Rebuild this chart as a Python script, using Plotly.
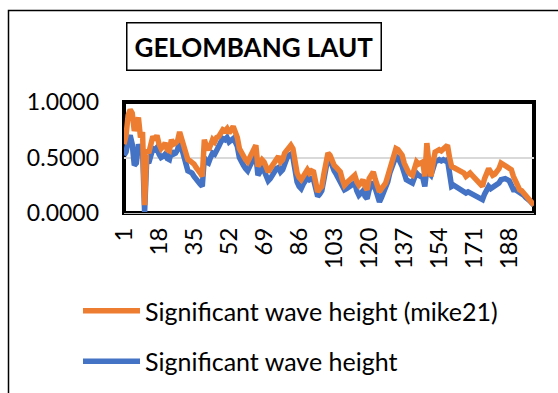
import plotly.graph_objects as go

# Wave height series (time step index 1..200)
steps = list(range(1, 201))

hs_mike21 = [
    0.62, 0.70, 0.88, 0.93, 0.90, 0.74, 0.80, 0.86, 0.68, 0.73,
    0.07, 0.57, 0.54, 0.60, 0.69, 0.66, 0.70, 0.62, 0.58, 0.60,
    0.63, 0.57, 0.56, 0.66, 0.62, 0.63, 0.65, 0.73, 0.66, 0.60,
    0.52, 0.48, 0.47, 0.46, 0.44, 0.41, 0.39, 0.36, 0.33, 0.66,
    0.60, 0.57, 0.61, 0.66, 0.64, 0.68, 0.69, 0.72, 0.75, 0.74,
    0.76, 0.72, 0.75, 0.78, 0.73, 0.68, 0.58, 0.54, 0.51, 0.48,
    0.46, 0.50, 0.54, 0.58, 0.61, 0.42, 0.45, 0.48, 0.46, 0.40,
    0.37, 0.40, 0.43, 0.47, 0.50, 0.51, 0.46, 0.48, 0.54, 0.57,
    0.60, 0.61, 0.58, 0.45, 0.36, 0.32, 0.30, 0.33, 0.37, 0.39,
    0.36, 0.38, 0.37, 0.28, 0.19, 0.22, 0.24, 0.35, 0.46, 0.54,
    0.52, 0.47, 0.43, 0.41, 0.39, 0.37, 0.30, 0.25, 0.27, 0.29,
    0.30, 0.32, 0.34, 0.28, 0.25, 0.27, 0.30, 0.24, 0.21, 0.31,
    0.34, 0.37, 0.30, 0.24, 0.19, 0.22, 0.25, 0.27, 0.33, 0.40,
    0.47, 0.53, 0.58, 0.57, 0.55, 0.52, 0.45, 0.39, 0.37, 0.35,
    0.34, 0.40, 0.46, 0.44, 0.45, 0.46, 0.33, 0.63, 0.45, 0.33,
    0.45, 0.55, 0.56, 0.57, 0.56, 0.58, 0.59, 0.61, 0.50, 0.42,
    0.41, 0.40, 0.39, 0.38, 0.37, 0.36, 0.33, 0.35, 0.36, 0.34,
    0.32, 0.30, 0.28, 0.26, 0.24, 0.31, 0.36, 0.40, 0.37, 0.34,
    0.35, 0.37, 0.40, 0.45, 0.44, 0.43, 0.42, 0.41, 0.39, 0.33,
    0.28, 0.24, 0.21, 0.20, 0.18, 0.16, 0.14, 0.12, 0.10, 0.07,
]

hs_obs = [
    0.52, 0.55, 0.65, 0.70, 0.62, 0.43, 0.45, 0.62, 0.55, 0.58,
    0.01, 0.47, 0.45, 0.50, 0.58, 0.57, 0.59, 0.53, 0.50, 0.51,
    0.53, 0.49, 0.48, 0.56, 0.53, 0.54, 0.57, 0.65, 0.57, 0.50,
    0.42, 0.38, 0.37, 0.36, 0.33, 0.30, 0.28, 0.26, 0.24, 0.50,
    0.46, 0.45, 0.50, 0.54, 0.53, 0.58, 0.60, 0.64, 0.67, 0.66,
    0.68, 0.64, 0.66, 0.67, 0.64, 0.60, 0.50, 0.45, 0.43, 0.40,
    0.38, 0.42, 0.46, 0.50, 0.53, 0.34, 0.37, 0.40, 0.38, 0.32,
    0.29, 0.31, 0.34, 0.38, 0.40, 0.41, 0.37, 0.39, 0.45, 0.49,
    0.52, 0.53, 0.50, 0.38, 0.28, 0.24, 0.22, 0.26, 0.30, 0.32,
    0.30, 0.31, 0.30, 0.22, 0.15, 0.17, 0.20, 0.30, 0.41, 0.50,
    0.48, 0.42, 0.38, 0.35, 0.31, 0.28, 0.24, 0.21, 0.22, 0.23,
    0.24, 0.25, 0.27, 0.20, 0.16, 0.18, 0.20, 0.15, 0.13, 0.21,
    0.25, 0.28, 0.22, 0.15, 0.10, 0.14, 0.18, 0.22, 0.28, 0.36,
    0.42, 0.48, 0.51, 0.50, 0.47, 0.42, 0.36, 0.30, 0.29, 0.28,
    0.27, 0.32, 0.36, 0.34, 0.33, 0.32, 0.24, 0.40, 0.36, 0.34,
    0.40, 0.46, 0.47, 0.48, 0.47, 0.48, 0.47, 0.48, 0.36, 0.24,
    0.25, 0.24, 0.23, 0.22, 0.21, 0.20, 0.18, 0.19, 0.18, 0.17,
    0.16, 0.15, 0.14, 0.13, 0.12, 0.17, 0.22, 0.24, 0.22, 0.23,
    0.25, 0.25, 0.27, 0.30, 0.31, 0.31, 0.30, 0.29, 0.25, 0.21,
    0.21, 0.20, 0.19, 0.18, 0.16, 0.14, 0.13, 0.11, 0.09, 0.07,
]

x_ticks = [1, 18, 35, 52, 69, 86, 103, 120, 137, 154, 171, 188]
y_ticks = [0.0, 0.5, 1.0]

title_text = "GELOMBANG LAUT"
name_mike21 = "Significant wave height (mike21)"
name_obs = "Significant wave height"

ORANGE = "#ED7D31"
BLUE = "#4472C4"
FONT = "Lato, Carlito, Calibri, sans-serif"

W, H = 558, 393
L, R, T, B = 124, 24, 102, 180
PW, PH = W - L - R, H - T - B


def px(xp):
    return (xp - L) / PW


def py(yp):
    return (H - B - yp) / PH


fig = go.Figure()
fig.add_trace(go.Scatter(
    x=steps, y=hs_obs, mode="lines", name=name_obs,
    line=dict(color=BLUE, width=5.5), legendgroup="b", legendrank=2,
))
fig.add_trace(go.Scatter(
    x=steps, y=hs_mike21, mode="lines", name=name_mike21,
    line=dict(color=ORANGE, width=5.5), legendgroup="a", legendrank=1,
))

fig.update_layout(
    width=W, height=H,
    margin=dict(l=L, r=R, t=T, b=B, pad=0, autoexpand=False),
    paper_bgcolor="white", plot_bgcolor="white",
    font=dict(family=FONT, color="black", size=22),
    showlegend=True,
    legend=dict(
        x=px(78), y=py(288), xanchor="left", yanchor="top",
        font=dict(size=25, family=FONT),
        itemwidth=57, tracegroupgap=15, traceorder="grouped",
        bgcolor="rgba(0,0,0,0)",
    ),
    xaxis=dict(
        range=[1, 200], tickmode="array", tickvals=x_ticks,
        ticktext=[str(v) for v in x_ticks], tickangle=-90,
        showgrid=False, zeroline=False, showline=True,
        linecolor="#BFBFBF", linewidth=1, ticks="",
        ticklabelstandoff=4, automargin=False,
        tickfont=dict(size=24, family=FONT),
    ),
    yaxis=dict(
        range=[0, 1], tickmode="array", tickvals=y_ticks,
        tickformat=".4f", showgrid=True, gridcolor="#D9D9D9", gridwidth=1.5,
        zeroline=False, showline=False, ticks="",
        ticklabelstandoff=24, automargin=False,
        tickfont=dict(size=23, family=FONT),
    ),
    shapes=[
        # outer chart frame
        dict(type="rect", xref="paper", yref="paper",
             x0=px(8.5), x1=px(620), y0=py(440), y1=py(10.5),
             line=dict(color="black", width=1.5), layer="below"),
        # heavy plot-area frame
        dict(type="rect", xref="paper", yref="paper",
             x0=0, x1=1, y0=0, y1=1,
             line=dict(color="black", width=4), layer="below"),
    ],
    annotations=[
        dict(text="<b>" + title_text + "</b>", xref="paper", yref="paper",
             x=px(253.5), y=py(46), xanchor="center", yanchor="middle",
             showarrow=False, font=dict(size=26, family=FONT, color="black"),
             bordercolor="black", borderwidth=1.5, borderpad=7,
             bgcolor="white"),
    ],
)

fig.write_html("out.html")
